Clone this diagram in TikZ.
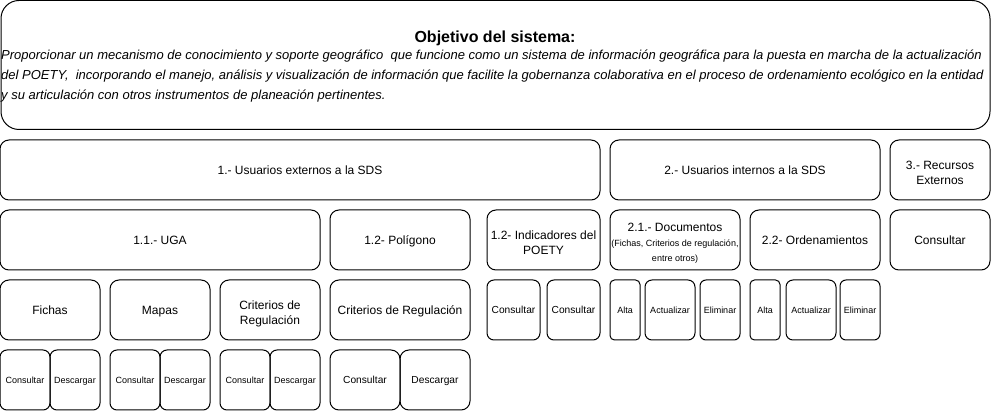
\documentclass[tikz,border=0pt]{standalone}
\usepackage{fontspec}
\setmainfont{Liberation Sans}
\usetikzlibrary{positioning}
\newcommand\boxstrut{\rule[-0.3em]{0pt}{1.316em}}
\newcommand\highstrut{\rule{0pt}{1.45em}}

\begin{document}
\begin{tikzpicture}[x=1pt, y=-1pt, font=\fontsize{12}{15}\selectfont,
    box/.style={draw, line width=1pt, rounded corners=9pt, align=center, inner sep=1pt, minimum height=60pt,
      execute at begin node=\boxstrut, execute at end node=\boxstrut},
    small/.style={font=\fontsize{9}{11}\selectfont},
    mid/.style={font=\fontsize{10.2}{12}\selectfont}]
  \useasboundingbox (0,0) rectangle (991,411);

  % objetivo
  \node[draw, line width=1pt, rounded corners=18pt, minimum width=989pt, minimum height=129pt] (obj) at (495.5,65) {};
  \node[font=\fontsize{16}{18}\bfseries] (objtit) at (495,38) {Objetivo del sistema:};
  \node[anchor=west, align=left, inner sep=0pt, font=\fontsize{13}{20}\itshape] (objtxt) at (1,76)
    {Proporcionar un mecanismo de conocimiento y soporte geográfico \ que funcione como un sistema de información geográfica para la puesta en marcha de la actualización\\
     del POETY, \ incorporando el manejo, análisis y visualización de información que facilite la gobernanza colaborativa en el proceso de ordenamiento ecológico en la entidad\\
     y su articulación con otros instrumentos de planeación pertinentes.};

  % usuarios
  \node[box, minimum width=600pt] (ext) at (300,170) {1.- Usuarios externos a la SDS};
  \node[box, minimum width=270pt] (int) at (745,170) {2.- Usuarios internos a la SDS};
  \node[box, minimum width=100pt] (rec) at (940,170) {\highstrut3.- Recursos\\Externos};

  \node[box, minimum width=320pt] (uga) at (160,240) {1.1.- UGA};
  \node[box, minimum width=140pt] (pol) at (400,240) {1.2- Polígono};
  \node[box, minimum width=113pt] (ind) at (543.5,240) {\highstrut1.2- Indicadores del\\POETY};
  \node[box, minimum width=130pt] (doc) at (675,240)
    {\highstrut2.1.- Documentos\\[0pt]{\fontsize{9}{14}\selectfont(Fichas, Criterios de regulación,}\\{\fontsize{9}{14}\selectfont entre otros)}};
  \node[box, minimum width=130pt] (ord) at (815,240) {2.2- Ordenamientos};
  \node[box, minimum width=100pt] (recc) at (940,240) {Consultar};

  % capas
  \foreach \i/\x/\t in {1/50/Fichas, 2/160/Mapas, 3/270/{\highstrut Criterios de\\Regulación}} {
    \node[box, minimum width=100pt] (capa\i) at (\x,310) {\t};
    \node[box, rounded corners=7pt, minimum width=50pt, small] (con\i) at (\x-25,380) {Consultar};
    \node[box, rounded corners=7pt, minimum width=50pt, small] (des\i) at (\x+25,380) {Descargar};
  }
  \node[box, minimum width=140pt] (crit) at (400,310) {Criterios de Regulación};
  \node[box, minimum width=70pt, mid] (con4) at (365,380) {Consultar};
  \node[box, minimum width=70pt, mid] (des4) at (435,380) {Descargar};

  \node[box, rounded corners=7pt, minimum width=53pt, mid] (indc1) at (513.5,310) {Consultar};
  \node[box, rounded corners=7pt, minimum width=53pt, mid] (indc2) at (573.5,310) {Consultar};

  % altas y bajas
  \foreach \i/\a/\b/\c in {1/625/670/720, 2/765/811/860} {
    \node[box, rounded corners=4.5pt, minimum width=30pt, small] (alta\i) at (\a,310) {Alta};
    \node[box, rounded corners=7pt, minimum width=50pt, small] (act\i) at (\b,310) {Actualizar};
    \node[box, rounded corners=6pt, minimum width=40pt, small] (eli\i) at (\c,310) {Eliminar};
  }
\end{tikzpicture}
\end{document}
